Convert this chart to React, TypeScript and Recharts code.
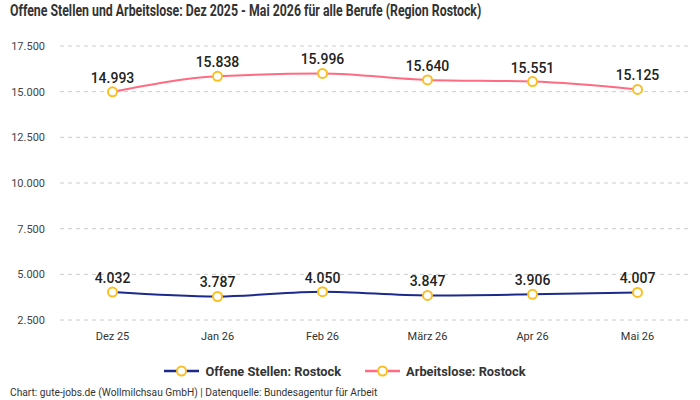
import React from 'react';
import { LineChart, Line, XAxis, YAxis, CartesianGrid, Legend, LabelList } from 'recharts';

const categories = ['Dez 25', 'Jan 26', 'Feb 26', 'März 26', 'Apr 26', 'Mai 26'];
const offeneStellen = [4032, 3787, 4050, 3847, 3906, 4007];
const arbeitslose = [14993, 15838, 15996, 15640, 15551, 15125];
const yTicks = [2500, 5000, 7500, 10000, 12500, 15000, 17500];

const seriesInfo = [
  { key: 'offen', name: 'Offene Stellen: Rostock', color: '#1b2a8c' },
  { key: 'arbeitslos', name: 'Arbeitslose: Rostock', color: '#ff6b81' },
];

const data = categories.map((c, i) => ({ cat: c, offen: offeneStellen[i], arbeitslos: arbeitslose[i] }));

const fmt = (v: number) => String(Math.round(v)).replace(/\B(?=(\d{3})+(?!\d))/g, '.');

const FONT = 'Roboto, "Noto Sans", sans-serif';
const DOT = '#fbbf24';

const LegendContent = () => (
  <div style={{ display: 'flex', justifyContent: 'center', alignItems: 'center', height: 20, fontFamily: FONT, fontWeight: 700, fontSize: 12.8, color: '#333' }}>
    {seriesInfo.map((s, i) => (
      <div key={s.key} style={{ display: 'flex', alignItems: 'center', marginLeft: i ? 24 : 0 }}>
        <svg width={35} height={12} style={{ marginRight: 6 }}>
          <line x1={0} y1={6} x2={35} y2={6} stroke={s.color} strokeWidth={2.5} />
          <circle cx={17.5} cy={6} r={4.5} fill="#fff" stroke={DOT} strokeWidth={2} />
        </svg>
        <span>{s.name}</span>
      </div>
    ))}
  </div>
);

export default function App() {
  return (
    <div style={{ position: 'absolute', left: 0, top: 0, width: 700, height: 400, background: '#fff', overflow: 'hidden' }}>
      <div style={{ position: 'absolute', left: 10, top: 0, fontFamily: FONT, fontWeight: 700, fontSize: 17, color: '#333', lineHeight: '20px', whiteSpace: 'nowrap', transform: 'scaleX(0.725)', transformOrigin: 'left center' }}>
        Offene Stellen und Arbeitslose: Dez 2025 - Mai 2026 für alle Berufe (Region Rostock)
      </div>
      <LineChart width={700} height={400} data={data} margin={{ top: 46, right: 10, bottom: 30, left: 0 }}>
        <CartesianGrid vertical={false} stroke="#cccccc" strokeDasharray="4 4" />
        <XAxis dataKey="cat" axisLine={false} tickLine={false} tickSize={0} tickMargin={12} padding={{ left: 52.5, right: 52.5 }}
          tick={{ fontFamily: FONT, fontSize: 11, fill: '#333' }} height={30} />
        <YAxis width={60} domain={[2500, 17500]} ticks={yTicks} axisLine={false} tickLine={false} tickSize={0} tickMargin={15}
          tickFormatter={fmt} tick={{ fontFamily: FONT, fontSize: 11, fill: '#444' }} />
        <Legend verticalAlign="bottom" height={20} content={<LegendContent />} wrapperStyle={{ bottom: 19 }} />
        {seriesInfo.map((s) => (
          <Line key={s.key} type="monotone" dataKey={s.key} name={s.name} stroke={s.color} strokeWidth={2}
            dot={{ r: 4.5, fill: '#fff', stroke: DOT, strokeWidth: 2 }} activeDot={false} isAnimationActive={false}>
            <LabelList dataKey={s.key} position="top" offset={9} formatter={(v: any) => fmt(Number(v))}
              style={{ fontFamily: FONT, fontSize: 14, fontWeight: 500, fill: '#222' }} />
          </Line>
        ))}
      </LineChart>
      <div style={{ position: 'absolute', left: 10, top: 387, fontFamily: FONT, fontSize: 10.2, color: '#333', whiteSpace: 'nowrap' }}>
        Chart: gute-jobs.de (Wollmilchsau GmbH) | Datenquelle: Bundesagentur für Arbeit
      </div>
    </div>
  );
}
